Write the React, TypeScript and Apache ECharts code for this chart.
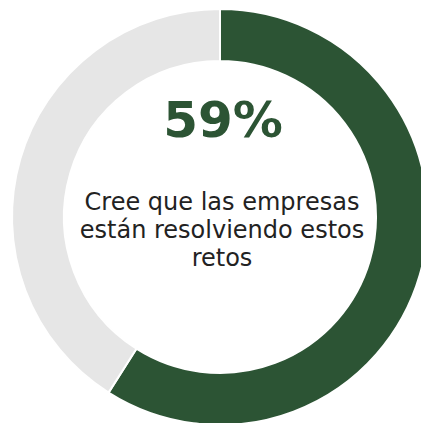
import React, { useEffect, useRef } from "react";
import * as echarts from "echarts";

const categories = ["Sí", "No"];
const values = [59, 41];
const colors = ["#2c5434", "#e6e6e6"];
const headline = "59%";
const caption = ["Cree que las empresas", "están resolviendo estos", "retos"];

export default function App() {
  const ref = useRef<HTMLDivElement>(null);
  useEffect(() => {
    document.body.style.margin = "0";
    const chart = echarts.init(ref.current!, null, { renderer: "svg" });
    chart.setOption({
      animation: false,
      backgroundColor: "#ffffff",
      series: [
        {
          type: "pie",
          center: [220, 217],
          radius: [156, 208],
          startAngle: 90,
          clockwise: true,
          silent: true,
          label: { show: false },
          labelLine: { show: false },
          itemStyle: { borderColor: "#ffffff", borderWidth: 2 },
          data: categories.map((c, i) => ({
            name: c,
            value: values[i],
            itemStyle: { color: colors[i] },
          })),
        },
      ],
      graphic: [
        {
          type: "text",
          x: 223,
          y: 120,
          style: {
            text: headline,
            fill: colors[0],
            font: "bold 50px 'DejaVu Sans'",
            align: "center",
            verticalAlign: "middle",
          },
        },
        {
          type: "text",
          x: 222,
          y: 230,
          style: {
            text: caption.join("\n"),
            fill: "#222222",
            font: "24px 'DejaVu Sans'",
            lineHeight: 28,
            align: "center",
            verticalAlign: "middle",
          },
        },
      ],
    });
    return () => chart.dispose();
  }, []);
  return <div ref={ref} style={{ width: 421, height: 423 }} />;
}
